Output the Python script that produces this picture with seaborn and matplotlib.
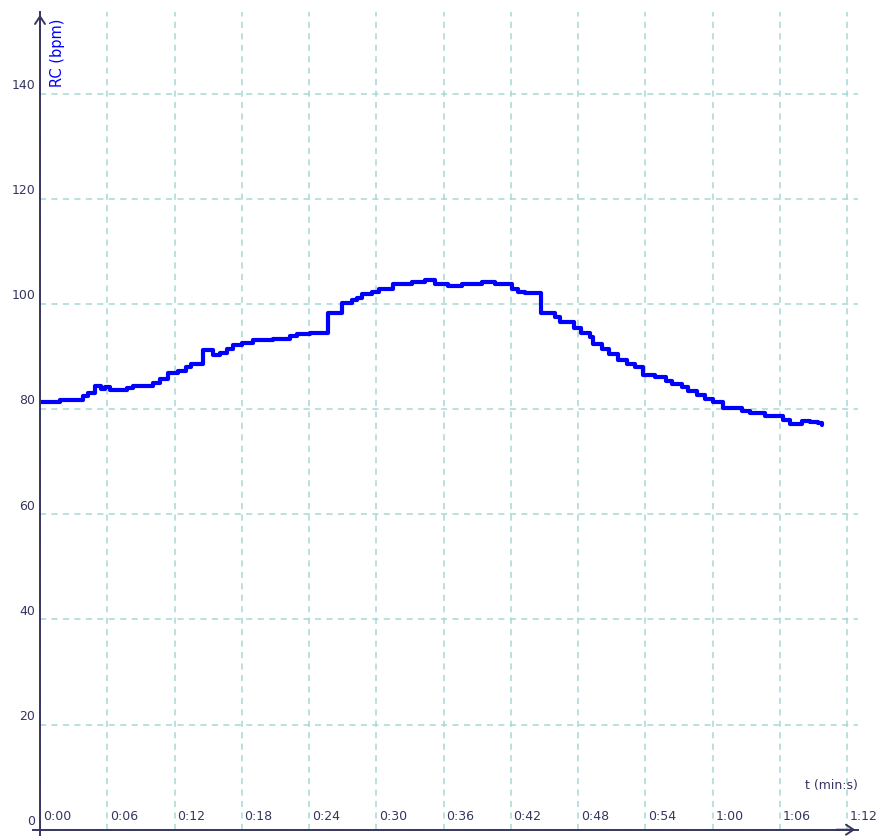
"""Heart rate (RC) over time, step trace on an arrow-axis grid."""

import matplotlib
matplotlib.use("Agg")
import matplotlib.pyplot as plt
import pandas as pd
import seaborn as sns

# time in seconds where each level starts, heart rate in bpm
time_s = [
    0.0, 1.8, 3.8, 4.3, 4.9, 5.4, 5.8, 6.2, 7.8, 8.3, 10.1, 10.7, 11.4, 12.3,
    13.0, 13.5, 14.5, 15.4, 16.1, 16.7, 17.2, 18.0, 19.0, 20.8, 22.3, 22.9,
    24.1, 25.7, 26.9, 27.8, 28.3, 28.7, 29.6, 30.2, 31.5, 33.2, 34.3, 35.2,
    36.4, 37.6, 39.4, 40.6, 42.1, 42.6, 43.3, 44.7, 45.9, 46.4, 47.6, 48.3,
    49.1, 49.3, 50.1, 50.8, 51.6, 52.4, 53.1, 53.8, 54.9, 55.8, 56.4, 57.3,
    57.8, 58.6, 59.3, 60.0, 60.9, 62.6, 63.3, 64.7, 66.3, 66.9, 68.0, 68.7,
    69.4, 69.8,
]
rc_bpm = [
    81.3, 81.8, 82.6, 83.1, 84.5, 83.9, 84.3, 83.7, 84.0, 84.4, 85.0, 85.8,
    86.9, 87.3, 88.0, 88.6, 91.3, 90.3, 90.8, 91.5, 92.2, 92.6, 93.1, 93.4,
    93.9, 94.3, 94.6, 98.3, 100.2, 100.7, 101.1, 101.9, 102.4, 102.8, 103.8,
    104.3, 104.6, 103.8, 103.5, 103.8, 104.2, 103.8, 102.8, 102.4, 102.1,
    98.4, 97.6, 96.7, 95.4, 94.6, 93.7, 92.4, 91.5, 90.5, 89.4, 88.6, 88.0,
    86.5, 86.1, 85.4, 84.8, 84.2, 83.5, 82.7, 82.0, 81.3, 80.2, 79.7, 79.2,
    78.7, 78.0, 77.2, 77.8, 77.5, 77.3, 77.1,
]
x_ticks = list(range(0, 73, 6))
x_tick_labels = [f"{t // 60}:{t % 60:02d}" for t in x_ticks]
y_ticks = list(range(0, 141, 20))

AXIS_COLOR = "#35355f"
GRID_COLOR = "#a6d9d3"

sns.set_style("white")
plt.rcParams["font.family"] = ["DejaVu Sans"]

df = pd.DataFrame({"t": time_s, "rc": rc_bpm})

fig = plt.figure(figsize=(8.82, 8.37), dpi=100)
ax = fig.add_axes([0.04535, 0.00753, 0.92745, 0.97697])

sns.lineplot(data=df, x="t", y="rc", ax=ax, color="#0000ff", linewidth=3.0,
             drawstyle="steps-post", zorder=5)

ax.set_xlim(0, 72.97)
ax.set_ylim(0, 155.6)
ax.set_xticks(x_ticks)
ax.set_yticks(y_ticks)
ax.grid(True, color=GRID_COLOR, linestyle=(0, (4, 3.5)), linewidth=1.1)
ax.tick_params(axis="x", direction="inout", length=9, width=1.2,
               color=AXIS_COLOR, labelbottom=False)
ax.tick_params(axis="y", direction="inout", length=11.5, width=1.2,
               color=AXIS_COLOR, labelleft=False)
ax.set_xlabel("")
ax.set_ylabel("")

for side in ["top", "right"]:
    ax.spines[side].set_visible(False)
for side in ["left", "bottom"]:
    ax.spines[side].set_color(AXIS_COLOR)
    ax.spines[side].set_linewidth(1.4)
    ax.spines[side].set_zorder(6)
ax.spines["left"].set_bounds(-1.0, 155.6)
ax.spines["bottom"].set_bounds(-0.6, 72.97)

# open arrow heads at the end of each axis
arrow = dict(arrowstyle="->, head_length=0.45, head_width=0.3",
             color=AXIS_COLOR, lw=1.4, mutation_scale=12)
ax.annotate("", xy=(0, 1.0), xytext=(0, 0.97), xycoords="axes fraction",
            arrowprops=arrow, annotation_clip=False)
ax.annotate("", xy=(1.0, 0), xytext=(0.97, 0), xycoords="axes fraction",
            arrowprops=arrow, annotation_clip=False)

# tick labels sit beside the ticks, above the axis lines
for t, lab in zip(x_ticks, x_tick_labels):
    ax.annotate(lab, xy=(t, 0), xycoords=("data", "axes fraction"),
                xytext=(2, 5.5), textcoords="offset points",
                ha="left", va="bottom", fontsize=9, color=AXIS_COLOR)
for v in y_ticks:
    ax.annotate(str(v), xy=(0, v), xycoords=("axes fraction", "data"),
                xytext=(-3.5, 2), textcoords="offset points",
                ha="right", va="bottom", fontsize=9, color=AXIS_COLOR)

ax.text(0.0215, 0.951, "RC (bpm)", transform=ax.transAxes, rotation=90,
        ha="center", va="center", fontsize=10.5, color="#0000ff")
ax.text(0.968, 0.0555, "t (min:s)", transform=ax.transAxes,
        ha="center", va="center", fontsize=9, color=AXIS_COLOR)

fig.savefig("out.png", dpi=100)
